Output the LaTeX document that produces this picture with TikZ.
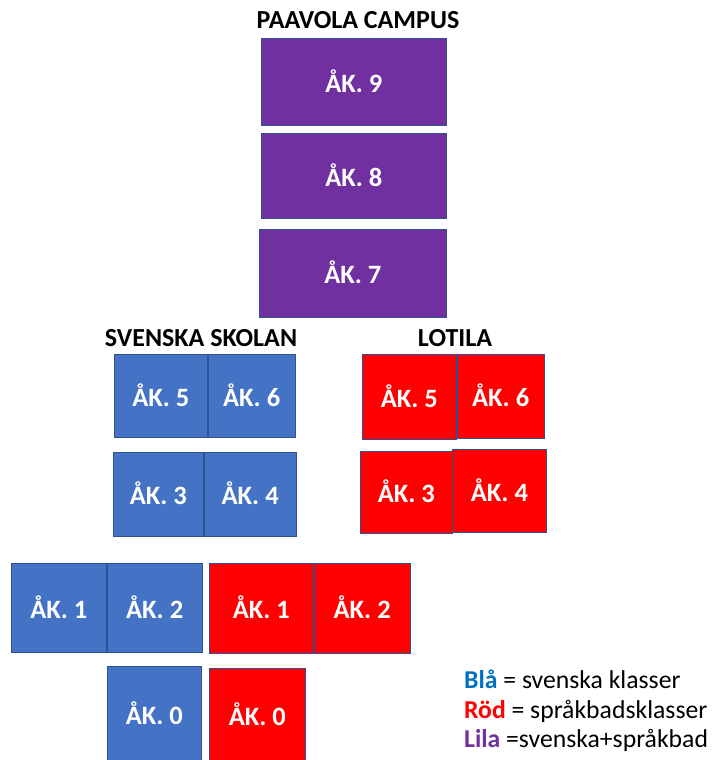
\documentclass[tikz,border=0pt]{standalone}
\usepackage{fontspec}
\setmainfont{Carlito}
\usetikzlibrary{positioning}

\definecolor{lila}{HTML}{7030A0}
\definecolor{bla}{HTML}{4472C4}
\definecolor{rod}{HTML}{FF0000}
\definecolor{kant}{HTML}{2F528F}
\definecolor{blatext}{HTML}{0070C0}

\begin{document}
\begin{tikzpicture}[
                x=1pt, y=-1pt,
                klass/.style={rectangle, draw=kant, line width=0.8pt, text=white,
                  font=\fontsize{26.5}{30}\selectfont\bfseries, inner sep=0pt,
                  text height=21pt, text depth=0pt, anchor=north west},
                lilaklass/.style={klass, fill=lila},
                blaklass/.style={klass, fill=bla},
                rodklass/.style={klass, fill=rod},
                rubrik/.style={font=\fontsize{26}{30}\selectfont\bfseries, inner sep=0pt},
                forklaring/.style={font=\fontsize{25.7}{30}\selectfont, inner sep=0pt, anchor=base west}
                ]
                \useasboundingbox (0,0) rectangle (715,760);

                % Paavola campus
                \node (paavola) [rubrik] at (358,20.5) {PAAVOLA CAMPUS};
                \node (lila9) [lilaklass, minimum width=185pt, minimum height=87pt] at (261,38) {ÅK. 9};
                \node (lila8) [lilaklass, minimum width=185pt, minimum height=85pt] at (261,133) {ÅK. 8};
                \node (lila7) [lilaklass, minimum width=187pt, minimum height=88pt] at (259,229) {ÅK. 7};

                % Svenska skolan
                \node (svenska) [rubrik] at (201,338.5) {SVENSKA SKOLAN};
                \node (sv5) [blaklass, minimum width=93pt, minimum height=83pt] at (114,354) {ÅK. 5};
                \node (sv6) [blaklass, minimum width=87pt, minimum height=83pt] at (sv5.north east) {ÅK. 6};
                \node (sv3) [blaklass, minimum width=90pt, minimum height=84pt] at (113,452) {ÅK. 3};
                \node (sv4) [blaklass, minimum width=92pt, minimum height=84pt] at (sv3.north east) {ÅK. 4};
                \node (sv1) [blaklass, minimum width=95pt, minimum height=89pt] at (11,563) {ÅK. 1};
                \node (sv2) [blaklass, minimum width=95pt, minimum height=89pt] at (sv1.north east) {ÅK. 2};
                \node (sv0) [blaklass, minimum width=94pt, minimum height=95pt] at (107,666) {ÅK. 0};

                % Lotila
                \node (lotila) [rubrik] at (455,338.5) {LOTILA};
                \node (lo5) [rodklass, minimum width=94pt, minimum height=85pt] at (362,354) {ÅK. 5};
                \node (lo6) [rodklass, minimum width=87pt, minimum height=84pt] at (lo5.north east) {ÅK. 6};
                \node (lo3) [rodklass, minimum width=92pt, minimum height=82pt] at (360,451) {ÅK. 3};
                \node (lo4) [rodklass, minimum width=94pt, minimum height=83pt] at (452,449) {ÅK. 4};
                \node (lo1) [rodklass, minimum width=104pt, minimum height=90pt] at (209,563) {ÅK. 1};
                \node (lo2) [rodklass, minimum width=96pt, minimum height=90pt] at (lo1.north east) {ÅK. 2};
                \node (lo0) [rodklass, minimum width=96pt, minimum height=93pt] at (209,668) {ÅK. 0};

                % Förklaring
                \node (blatxt) [forklaring] at (464,688) {{\bfseries\color{blatext}Blå} = svenska klasser};
                \node (rodtxt) [forklaring] at (464,718) {{\bfseries\color{rod}Röd} = språkbadsklasser};
                \node (lilatxt) [forklaring] at (464,747) {{\bfseries\color{lila}Lila} =svenska+språkbad};
            \end{tikzpicture}
\end{document}
